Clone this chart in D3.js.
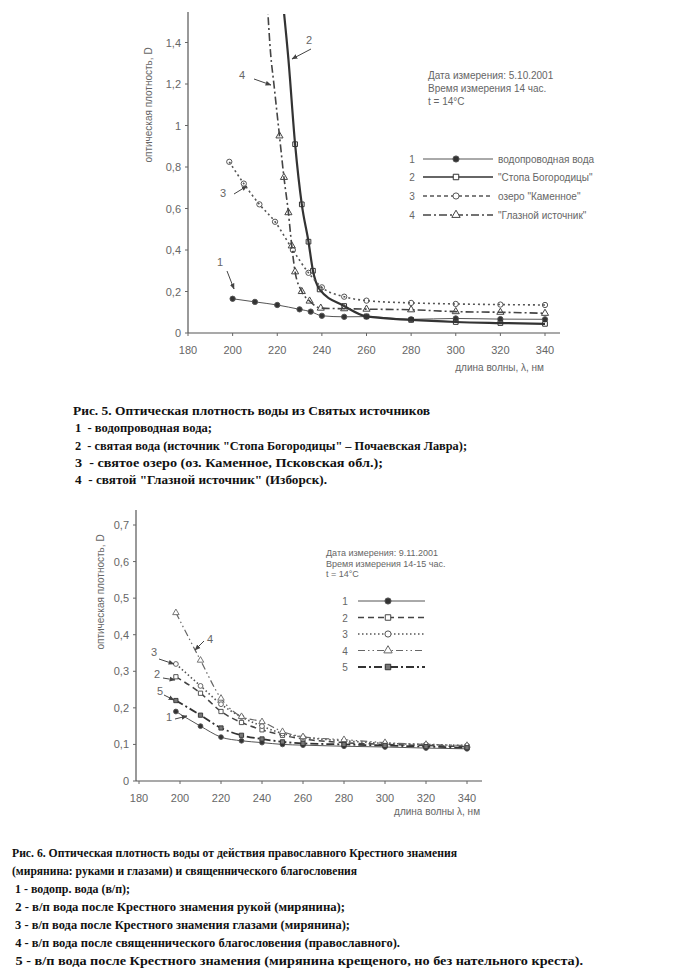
<!DOCTYPE html>
<html><head><meta charset="utf-8">
<script src="https://cdn.jsdelivr.net/npm/d3@7"></script>
<style>
html,body{margin:0;padding:0;background:#fff;}
svg{display:block;}
.ax{font-family:"Liberation Sans",Arial,sans-serif;fill:#666;}
.cap{font-family:"Liberation Serif","Times New Roman",serif;font-weight:bold;font-size:12.5px;fill:#111;}
</style></head>
<body>
<script>
// ---------- Fig 5 data ----------
const fig5Names = ["водопроводная вода", "\"Стопа Богородицы\"", "озеро \"Каменное\"", "\"Глазной источник\""];
const fig5S1 = [[200,0.165],[210,0.15],[220,0.135],[230,0.114],[235,0.103],[240,0.083],[250,0.078],[260,0.079],[280,0.066],[300,0.07],[320,0.067],[340,0.066]];
const fig5S2 = [[222.5,1.6],[225,1.32],[228,0.91],[231,0.62],[234,0.44],[236,0.3],[239,0.21],[250,0.13],[260,0.08],[280,0.063],[300,0.053],[320,0.048],[340,0.044]];
const fig5S3 = [[198.5,0.825],[205,0.72],[212,0.62],[219,0.536],[227,0.4],[234,0.29],[240,0.22],[250,0.175],[260,0.156],[280,0.145],[300,0.14],[320,0.137],[340,0.135]];
const fig5S4 = [[215.5,1.6],[217,1.35],[218.5,1.2],[221,0.95],[223,0.75],[225,0.58],[226.5,0.42],[228,0.295],[231,0.2],[234.5,0.154],[239.5,0.12],[250,0.117],[260,0.115],[280,0.112],[300,0.103],[320,0.1],[340,0.095]];
const fig5XTicks = [180,200,220,240,260,280,300,320,340];
const fig5YTicks = [0,0.2,0.4,0.6,0.8,1,1.2,1.4];
const fig5Info = ["Дата измерения: 5.10.2001", "Время измерения 14 час.", "t = 14°C"];
const fig5Caption = ["Рис. 5. Оптическая плотность воды из Святых источников",
  "1  - водопроводная вода;",
  "2  - святая вода (источник \"Стопа Богородицы\" – Почаевская Лавра);",
  "3  - святое озеро (оз. Каменное, Псковская обл.);",
  "4  - святой \"Глазной источник\" (Изборск)."];
const fig5CaptionWidths = [357, 137, 392, 308, 252];

// ---------- Fig 6 data ----------
const fig6Lambda = [198, 210, 220, 230, 240, 250, 260, 280, 300, 320, 340];
const fig6S1 = [0.19, 0.15, 0.12, 0.11, 0.105, 0.10, 0.098, 0.095, 0.093, 0.09, 0.088];
const fig6S2 = [0.285, 0.24, 0.19, 0.16, 0.14, 0.125, 0.115, 0.105, 0.10, 0.097, 0.094];
const fig6S3 = [0.32, 0.26, 0.21, 0.175, 0.15, 0.13, 0.12, 0.11, 0.103, 0.10, 0.097];
const fig6S4 = [0.46, 0.33, 0.226, 0.176, 0.162, 0.135, 0.121, 0.113, 0.105, 0.10, 0.097];
const fig6S5 = [0.22, 0.18, 0.145, 0.125, 0.115, 0.107, 0.103, 0.10, 0.097, 0.094, 0.091];
const fig6XTicks = [180,200,220,240,260,280,300,320,340];
const fig6YTicks = [0,0.1,0.2,0.3,0.4,0.5,0.6,0.7];
const fig6Info = ["Дата измерения: 9.11.2001", "Время измерения 14-15 час.", "t = 14°C"];
const fig6Caption = ["Рис. 6. Оптическая плотность воды от действия православного Крестного знамения",
  "(мирянина: руками и глазами) и священнического благословения",
  " 1 - водопр. вода (в/п);",
  " 2 - в/п вода после Крестного знамения рукой (мирянина);",
  " 3 - в/п вода после Крестного знамения глазами (мирянина);",
  " 4 - в/п вода после священнического благословения (православного).",
  " 5 - в/п вода после Крестного знамения (мирянина крещеного, но без нательного креста)."];
const fig6CaptionWidths = [445, 345, 118, 333, 338, 388, 571];

const svg = d3.select("body").append("svg").attr("width",674).attr("height",974);
const defs = svg.append("defs");
defs.append("marker").attr("id","arr").attr("viewBox","0 0 10 10").attr("refX",9).attr("refY",5)
  .attr("markerWidth",6).attr("markerHeight",6).attr("orient","auto")
  .append("path").attr("d","M0,1 L10,5 L0,9 Z").attr("fill","#444");

const fmt = v => String(v).replace(".", ",");

function symbolPath(type, size){
  const m = {circle:d3.symbolCircle, square:d3.symbolSquare, triangle:d3.symbolTriangle};
  return d3.symbol().type(m[type]).size(size)();
}

function drawAxes(g, x, y, xTicks, yTicks, yAxisX, xEnd, yTop, xLabel, xLabelPos, yLabelPos){
  g.append("line").attr("x1",yAxisX).attr("x2",yAxisX).attr("y1",y(0)).attr("y2",yTop).attr("stroke","#555").attr("stroke-width",1.2);
  g.append("line").attr("x1",yAxisX).attr("x2",xEnd).attr("y1",y(0)).attr("y2",y(0)).attr("stroke","#555").attr("stroke-width",1.2);
  yTicks.forEach(t=>{
    g.append("line").attr("x1",yAxisX-3).attr("x2",yAxisX).attr("y1",y(t)).attr("y2",y(t)).attr("stroke","#666");
    g.append("text").attr("class","ax").attr("x",yAxisX-7).attr("y",y(t)+4).attr("text-anchor","end").attr("font-size",11).text(fmt(t));
  });
  xTicks.forEach(t=>{
    g.append("line").attr("x1",x(t)).attr("x2",x(t)).attr("y1",y(0)).attr("y2",y(0)+3).attr("stroke","#666");
    g.append("text").attr("class","ax").attr("x",x(t)).attr("y",y(0)+21).attr("text-anchor","middle").attr("font-size",11).text(t);
  });
  g.append("text").attr("class","ax").attr("x",xLabelPos[0]).attr("y",xLabelPos[1]).attr("text-anchor","end").attr("font-size",10).text(xLabel);
  g.append("text").attr("class","ax").attr("transform",`translate(${yLabelPos[0]},${yLabelPos[1]}) rotate(-90)`)
    .attr("text-anchor","middle").attr("font-size",10).text("оптическая плотность, D");
}

function arrowLabel(g, label, lx, ly, x1, y1, x2, y2){
  g.append("text").attr("class","ax").attr("x",lx).attr("y",ly).attr("text-anchor","middle").attr("font-size",11).text(label);
  g.append("line").attr("x1",x1).attr("y1",y1).attr("x2",x2).attr("y2",y2).attr("stroke","#444").attr("stroke-width",1).attr("marker-end","url(#arr)");
}

// ================= FIG 5 =================
{
  const g = svg.append("g");
  const x = d3.scaleLinear().domain([180,340]).range([188,545]);
  const y = d3.scaleLinear().domain([0,1.4]).range([333,42.5]);
  defs.append("clipPath").attr("id","c5").append("rect").attr("x",188).attr("y",14).attr("width",380).attr("height",322);
  drawAxes(g, x, y, fig5XTicks, fig5YTicks, x(180), 560, 12, "длина волны, λ, нм", [544,371], [152,105]);

  const series = [
    {d:fig5S1, sw:1, dash:null, sym:"circle", fill:"#333", col:"#555"},
    {d:fig5S2, sw:2.2, dash:null, sym:"square", fill:"none", col:"#333"},
    {d:fig5S3, sw:1.6, dash:"2,3", sym:"circle", fill:"none", col:"#555"},
    {d:fig5S4, sw:1.6, dash:"8,3,2,3", sym:"triangle", fill:"none", col:"#444"}
  ];
  const line = d3.line().x(p=>x(p[0])).y(p=>y(p[1])).curve(d3.curveMonotoneX);
  const pg = g.append("g").attr("clip-path","url(#c5)");
  series.forEach(s=>{
    pg.append("path").attr("d",line(s.d)).attr("fill","none").attr("stroke",s.col).attr("stroke-width",s.sw)
      .attr("stroke-dasharray",s.dash);
    pg.selectAll(null).data(s.d.filter(p=>p[1]<1.0)).enter().append("path")
      .attr("d",symbolPath(s.sym,22)).attr("transform",p=>`translate(${x(p[0])},${y(p[1])})`)
      .attr("fill",s.fill).attr("stroke",s.col).attr("stroke-width",1);
  });
  arrowLabel(g,"1",220,266,227,271,234,289);
  arrowLabel(g,"2",309,44,311,49,292,59);
  arrowLabel(g,"4",242,79,254,79,271,85);
  arrowLabel(g,"3",223,197,234,194,247,186);

  fig5Info.forEach((t,i)=>g.append("text").attr("class","ax").attr("x",428).attr("y",79+i*13).attr("font-size",10).text(t));
  const rows=[159,177,196,215];
  series.forEach((s,i)=>{
    g.append("text").attr("class","ax").attr("x",412).attr("y",rows[i]+4).attr("text-anchor","middle").attr("font-size",10).text(i+1);
    g.append("line").attr("x1",423).attr("x2",493).attr("y1",rows[i]).attr("y2",rows[i]).attr("stroke",s.col)
      .attr("stroke-width",i==0?1:1.6).attr("stroke-dasharray",i==2?"4,3":s.dash);
    g.append("path").attr("d",symbolPath(s.sym,30)).attr("transform",`translate(456,${rows[i]})`).attr("fill",s.fill==="none"?"#fff":s.fill).attr("stroke",s.col);
    g.append("text").attr("class","ax").attr("x",498).attr("y",rows[i]+4).attr("font-size",10).text(fig5Names[i]);
  });
  fig5Caption.forEach((t,i)=>svg.append("text").attr("class","cap").attr("x",i==0?73:75).attr("y",415+i*17.3)
    .attr("xml:space","preserve").attr("textLength",fig5CaptionWidths[i]).attr("lengthAdjust","spacingAndGlyphs").text(t));
}

// ================= FIG 6 =================
{
  const g = svg.append("g");
  const x = d3.scaleLinear().domain([180,340]).range([139,467]);
  const y = d3.scaleLinear().domain([0,0.7]).range([781,525]);
  drawAxes(g, x, y, fig6XTicks, fig6YTicks, 136, 482, 510, "длина волны λ, нм", [480,815], [104,592]);

  const series = [
    {v:fig6S1, sw:1, dash:null, sym:"circle", fill:"#333", col:"#555"},
    {v:fig6S2, sw:1.5, dash:"6,4", sym:"square", fill:"#fff", col:"#444"},
    {v:fig6S3, sw:1.6, dash:"1.5,2.5", sym:"circle", fill:"#fff", col:"#555"},
    {v:fig6S4, sw:1.2, dash:"7,3,1.5,3,1.5,3", sym:"triangle", fill:"#fff", col:"#666"},
    {v:fig6S5, sw:1.8, dash:"8,3,2,3", sym:"square", fill:"#777", col:"#333"}
  ];
  const line = d3.line().x(p=>x(p[0])).y(p=>y(p[1])).curve(d3.curveMonotoneX);
  series.forEach(s=>{
    const pts = fig6Lambda.map((l,i)=>[l,s.v[i]]);
    g.append("path").attr("d",line(pts)).attr("fill","none").attr("stroke",s.col).attr("stroke-width",s.sw).attr("stroke-dasharray",s.dash);
    g.selectAll(null).data(pts).enter().append("path")
      .attr("d",symbolPath(s.sym,18)).attr("transform",p=>`translate(${x(p[0])},${y(p[1])})`)
      .attr("fill",s.fill).attr("stroke",s.col).attr("stroke-width",0.9);
  });
  arrowLabel(g,"4",210,643,204,641,195,650);
  arrowLabel(g,"3",154,656,159,659,174,664);
  arrowLabel(g,"2",157,678,163,678,175,680);
  arrowLabel(g,"5",160,695,164,695,174,700);
  arrowLabel(g,"1",169,721,175,719,187,716);

  fig6Info.forEach((t,i)=>g.append("text").attr("class","ax").attr("x",326).attr("y",556+i*10.5).attr("font-size",9).text(t));
  const rows=[601,617.5,634,650.5,667];
  series.forEach((s,i)=>{
    g.append("text").attr("class","ax").attr("x",345).attr("y",rows[i]+4).attr("text-anchor","middle").attr("font-size",10).text(i+1);
    g.append("line").attr("x1",358).attr("x2",425).attr("y1",rows[i]).attr("y2",rows[i]).attr("stroke",s.col)
      .attr("stroke-width",s.sw).attr("stroke-dasharray",s.dash);
    g.append("path").attr("d",symbolPath(s.sym,30)).attr("transform",`translate(388,${rows[i]})`).attr("fill",s.fill).attr("stroke",s.col);
  });
  fig6Caption.forEach((t,i)=>svg.append("text").attr("class","cap").attr("x",12).attr("y",857+i*18)
    .attr("xml:space","preserve").attr("textLength",fig6CaptionWidths[i]).attr("lengthAdjust","spacingAndGlyphs").text(t));
}
</script>
</body></html>
